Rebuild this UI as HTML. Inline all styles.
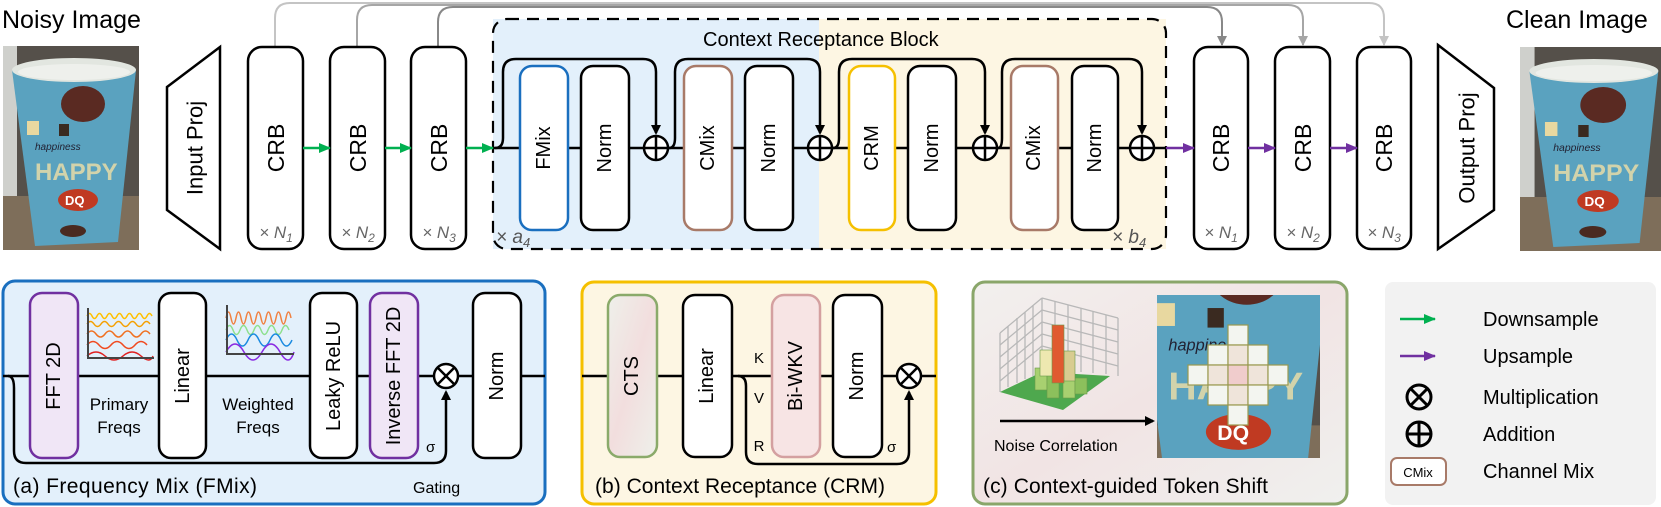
<!DOCTYPE html>
<html><head><meta charset="utf-8"><style>
html,body{margin:0;padding:0;background:#fff}
svg{display:block}
text{font-family:"Liberation Sans",sans-serif}
</style></head><body>
<svg width="1661" height="507" viewBox="0 0 1661 507" xmlns="http://www.w3.org/2000/svg">
<defs>
<marker id="ab" markerWidth="10" markerHeight="10" refX="8" refY="5" orient="auto" markerUnits="userSpaceOnUse"><path d="M0,0 L10,5 L0,10 z" fill="#000"/></marker>
<marker id="ag" markerWidth="12" markerHeight="10" refX="11" refY="5" orient="auto" markerUnits="userSpaceOnUse"><path d="M0,0 L12,5 L0,10 z" fill="#00b050"/></marker>
<marker id="ap" markerWidth="12" markerHeight="10" refX="11" refY="5" orient="auto" markerUnits="userSpaceOnUse"><path d="M0,0 L12,5 L0,10 z" fill="#7030a0"/></marker>
<marker id="a1" markerWidth="10" markerHeight="12" refX="9" refY="5" orient="auto" markerUnits="userSpaceOnUse"><path d="M0,0 L10,5 L0,10 z" fill="#888"/></marker>
<marker id="a2" markerWidth="10" markerHeight="12" refX="9" refY="5" orient="auto" markerUnits="userSpaceOnUse"><path d="M0,0 L10,5 L0,10 z" fill="#a6a6a6"/></marker>
<marker id="a3" markerWidth="10" markerHeight="12" refX="9" refY="5" orient="auto" markerUnits="userSpaceOnUse"><path d="M0,0 L10,5 L0,10 z" fill="#c4c4c4"/></marker>
<linearGradient id="cts" x1="0" y1="0" x2="1" y2="1"><stop offset="0" stop-color="#eef0ea"/><stop offset="0.5" stop-color="#f2dede"/><stop offset="1" stop-color="#eef0ea"/></linearGradient>
<linearGradient id="pc" x1="0" y1="0" x2="1" y2="1"><stop offset="0" stop-color="#f2f0ee"/><stop offset="0.5" stop-color="#f1e4e4"/><stop offset="1" stop-color="#f0f0ee"/></linearGradient>
<g id="cup">
<rect x="0" y="0" width="136" height="204" fill="#55504a"/>
<rect x="0" y="0" width="14" height="190" fill="#cfd0cc"/>
<rect x="0" y="150" width="136" height="54" fill="#7e6e5a"/>
<path d="M9,24 L133,24 L115,196 L32,200 Z" fill="#5aa2bf"/>
<ellipse cx="71" cy="24" rx="62" ry="12" fill="#e2e6e0"/>
<ellipse cx="71" cy="26" rx="56" ry="8" fill="#eef0ec"/>
<ellipse cx="80" cy="58" rx="22" ry="18" fill="#5a2a22"/>
<rect x="24" y="75" width="12" height="14" fill="#e8d8a0"/>
<rect x="56" y="78" width="10" height="12" fill="#3a2a20"/>
<text x="32" y="104" font-size="10" fill="#223" font-style="italic">happiness</text>
<text x="32" y="134" font-size="24" font-weight="bold" fill="#e8dca8" opacity="0.85">HAPPY</text>
<ellipse cx="75" cy="154" rx="20" ry="11" fill="#c03a22"/>
<text x="62" y="159" font-size="13" font-weight="bold" fill="#fff">DQ</text>
<ellipse cx="70" cy="185" rx="13" ry="6" fill="#4a2a20"/>
</g>
</defs>

<text x="2" y="28" font-size="25">Noisy Image</text>
<use href="#cup" x="3" y="46"/>
<text x="1506" y="28" font-size="25">Clean Image</text>
<g transform="translate(1520,47) scale(1.04,1)"><use href="#cup"/></g>

<polygon points="220,47 220,249 167,210 167,87" fill="#fff" stroke="#000" stroke-width="2.5"/>
<text transform="translate(195,148) rotate(-90)" text-anchor="middle" dominant-baseline="central" font-size="22">Input Proj</text>
<polygon points="1438,45 1494,88 1494,210 1438,249" fill="#fff" stroke="#000" stroke-width="2.5"/>
<text transform="translate(1467,148) rotate(-90)" text-anchor="middle" dominant-baseline="central" font-size="22">Output Proj</text>

<path d="M275,47 V18 Q275,3 290,3 H1369 Q1384,3 1384,18 V45" fill="none" stroke="#c4c4c4" stroke-width="2" marker-end="url(#a3)"/>
<path d="M357,47 V20 Q357,5 372,5 H1288 Q1303,5 1303,20 V45" fill="none" stroke="#a6a6a6" stroke-width="2" marker-end="url(#a2)"/>
<path d="M438,47 V22 Q438,7 453,7 H1207 Q1222,7 1222,22 V45" fill="none" stroke="#888" stroke-width="2" marker-end="url(#a1)"/>

<rect x="493" y="19" width="326" height="230" fill="#e3f0fb"/>
<rect x="819" y="19" width="347" height="230" fill="#fdf6e3"/>
<rect x="493" y="19" width="673" height="230" rx="14" fill="none" stroke="#000" stroke-width="2.2" stroke-dasharray="12,8"/>
<text x="703" y="46" font-size="20">Context Receptance Block</text>
<text x="496" y="243" font-size="19" fill="#555" font-style="italic">× a<tspan font-size="13" dy="4">4</tspan></text>
<text x="1112" y="243" font-size="19" fill="#555" font-style="italic">× b<tspan font-size="13" dy="4">4</tspan></text>

<line x1="493" y1="148" x2="1166" y2="148" stroke="#000" stroke-width="2.5"/>
<g fill="none" stroke="#000" stroke-width="2.5">
<path d="M495,148 Q503,148 503,138 V72 Q503,59 516,59 H643 Q656,59 656,72 V133" marker-end="url(#ab)"/>
<path d="M669,148 Q675,148 675,138 V72 Q675,59 688,59 H807 Q820,59 820,72 V133" marker-end="url(#ab)"/>
<path d="M833,148 Q839,148 839,138 V72 Q839,59 852,59 H972 Q985,59 985,72 V133" marker-end="url(#ab)"/>
<path d="M998,148 Q1002,148 1002,138 V72 Q1002,59 1015,59 H1129 Q1142,59 1142,72 V133" marker-end="url(#ab)"/>
</g>
<g fill="#fff" stroke-width="2.5">
<rect x="520" y="66" width="48" height="164" rx="12" stroke="#1a6fbf"/>
<rect x="581" y="66" width="48" height="164" rx="12" stroke="#000"/>
<rect x="684" y="66" width="48" height="164" rx="12" stroke="#a87a68"/>
<rect x="745" y="66" width="48" height="164" rx="12" stroke="#000"/>
<rect x="849" y="66" width="46" height="164" rx="12" stroke="#f5c000"/>
<rect x="908" y="66" width="48" height="164" rx="12" stroke="#000"/>
<rect x="1011" y="66" width="47" height="164" rx="12" stroke="#a87a68"/>
<rect x="1072" y="66" width="46" height="164" rx="12" stroke="#000"/>
</g>
<g font-size="20" text-anchor="middle" dominant-baseline="central">
<text transform="translate(544,148) rotate(-90)">FMix</text>
<text transform="translate(605,148) rotate(-90)">Norm</text>
<text transform="translate(708,148) rotate(-90)">CMix</text>
<text transform="translate(769,148) rotate(-90)">Norm</text>
<text transform="translate(872,148) rotate(-90)">CRM</text>
<text transform="translate(932,148) rotate(-90)">Norm</text>
<text transform="translate(1034,148) rotate(-90)">CMix</text>
<text transform="translate(1095,148) rotate(-90)">Norm</text>
</g>
<g fill="#fff" stroke="#000" stroke-width="2.5">
<circle cx="656" cy="148" r="12"/><path d="M644,148 H668 M656,136 V160"/>
<circle cx="820" cy="148" r="12"/><path d="M808,148 H832 M820,136 V160"/>
<circle cx="985" cy="148" r="12"/><path d="M973,148 H997 M985,136 V160"/>
<circle cx="1142" cy="148" r="12"/><path d="M1130,148 H1154 M1142,136 V160"/>
</g>

<g fill="#fff" stroke="#000" stroke-width="2.5">
<rect x="248" y="47" width="55" height="202" rx="14"/>
<rect x="330" y="47" width="55" height="202" rx="14"/>
<rect x="411" y="47" width="55" height="202" rx="14"/>
<rect x="1194" y="47" width="54" height="202" rx="14"/>
<rect x="1275" y="47" width="55" height="202" rx="14"/>
<rect x="1357" y="47" width="54" height="202" rx="14"/>
</g>
<g font-size="23" text-anchor="middle" dominant-baseline="central">
<text transform="translate(276,148) rotate(-90)">CRB</text>
<text transform="translate(358,148) rotate(-90)">CRB</text>
<text transform="translate(439,148) rotate(-90)">CRB</text>
<text transform="translate(1221,148) rotate(-90)">CRB</text>
<text transform="translate(1303,148) rotate(-90)">CRB</text>
<text transform="translate(1384,148) rotate(-90)">CRB</text>
</g>
<g font-size="17" fill="#666" text-anchor="middle" font-style="italic">
<text x="276" y="238">× N<tspan font-size="12" dy="4">1</tspan></text>
<text x="358" y="238">× N<tspan font-size="12" dy="4">2</tspan></text>
<text x="439" y="238">× N<tspan font-size="12" dy="4">3</tspan></text>
<text x="1221" y="238">× N<tspan font-size="12" dy="4">1</tspan></text>
<text x="1303" y="238">× N<tspan font-size="12" dy="4">2</tspan></text>
<text x="1384" y="238">× N<tspan font-size="12" dy="4">3</tspan></text>
</g>
<g stroke-width="2.5">
<line x1="303" y1="148" x2="330" y2="148" stroke="#00b050" marker-end="url(#ag)"/>
<line x1="385" y1="148" x2="411" y2="148" stroke="#00b050" marker-end="url(#ag)"/>
<line x1="466" y1="148" x2="493" y2="148" stroke="#00b050" marker-end="url(#ag)"/>
<line x1="1166" y1="148" x2="1194" y2="148" stroke="#7030a0" marker-end="url(#ap)"/>
<line x1="1248" y1="148" x2="1275" y2="148" stroke="#7030a0" marker-end="url(#ap)"/>
<line x1="1330" y1="148" x2="1357" y2="148" stroke="#7030a0" marker-end="url(#ap)"/>
</g>

<rect x="3" y="281" width="542" height="223" rx="12" fill="#e3f0fb" stroke="#1a6fbf" stroke-width="3"/>
<line x1="3" y1="376" x2="545" y2="376" stroke="#000" stroke-width="2.5"/>
<path d="M8,376 Q14,376 14,388 V451 Q14,463 26,463 H434 Q446,463 446,451 V392" fill="none" stroke="#000" stroke-width="2.5" marker-end="url(#ab)"/>
<g stroke-width="2.5">
<rect x="30" y="293" width="48" height="165" rx="12" fill="#f0e6f6" stroke="#7030a0"/>
<rect x="159" y="293" width="47" height="165" rx="12" fill="#fff" stroke="#000"/>
<rect x="310" y="293" width="47" height="165" rx="12" fill="#fff" stroke="#000"/>
<rect x="370" y="293" width="48" height="165" rx="12" fill="#f0e6f6" stroke="#7030a0"/>
<rect x="473" y="293" width="48" height="165" rx="12" fill="#fff" stroke="#000"/>
</g>
<g font-size="20" text-anchor="middle" dominant-baseline="central">
<text transform="translate(54,376) rotate(-90)">FFT 2D</text>
<text transform="translate(183,376) rotate(-90)">Linear</text>
<text transform="translate(334,376) rotate(-90)">Leaky ReLU</text>
<text transform="translate(394,376) rotate(-90)">Inverse FFT 2D</text>
<text transform="translate(497,376) rotate(-90)">Norm</text>
</g>
<g fill="#fff" stroke="#000" stroke-width="2.5"><circle cx="446" cy="376" r="12"/><path d="M437.5,367.5 L454.5,384.5 M454.5,367.5 L437.5,384.5"/></g>
<text x="426" y="452" font-size="15" font-family="Liberation Serif">σ</text>
<text x="119" y="410" font-size="17" text-anchor="middle">Primary</text>
<text x="119" y="433" font-size="17" text-anchor="middle">Freqs</text>
<text x="258" y="410" font-size="17" text-anchor="middle">Weighted</text>
<text x="258" y="433" font-size="17" text-anchor="middle">Freqs</text>
<g fill="none" stroke-width="1.5">
<path d="M87,316 q2.5,-5 5,0 t5,0 t5,0 t5,0 t5,0 t5,0 t5,0 t5,0 t5,0 t5,0 t5,0 t5,0 t5,0" stroke="#ffc000"/>
<path d="M87,324 q3.5,-5 7,0 t7,0 t7,0 t7,0 t7,0 t7,0 t7,0 t7,0 t7,0" stroke="#f5a000"/>
<path d="M87,334 q4.5,-6 9,0 t9,0 t9,0 t9,0 t9,0 t9,0 t9,0" stroke="#f07020"/>
<path d="M87,345 q6,-7 12,0 t12,0 t12,0 t12,0 t12,0" stroke="#f04a20"/>
<path d="M87,356 q9,-8 18,0 t18,0 t18,0 t12,0" stroke="#e02020"/>
</g>
<path d="M88,308 V358 H154" fill="none" stroke="#444" stroke-width="2"/>
<g fill="none" stroke-width="1.5">
<path d="M226,318 q2.5,-12 5,0 t5,0 t5,0 t5,0 t5,0 t5,0 t5,0 t5,0 t5,0 t5,0 t5,0 t5,0 t5,0" stroke="#f08040"/>
<path d="M226,330 q3.5,-9 7,0 t7,0 t7,0 t7,0 t7,0 t7,0 t7,0 t7,0 t7,0" stroke="#8ee08e"/>
<path d="M226,340 q5.5,-12 11,0 t11,0 t11,0 t11,0 t11,0 t11,0" stroke="#1a8ae0"/>
<path d="M226,352 q9,-16 18,0 t18,0 t18,0 t14,0" stroke="#8a2be2"/>
</g>
<path d="M227,305 V354 H294" fill="none" stroke="#444" stroke-width="2"/>
<text x="13" y="493" font-size="21" textLength="244">(a) Frequency Mix (FMix)</text>
<text x="413" y="493" font-size="16">Gating</text>

<rect x="582" y="282" width="354" height="222" rx="12" fill="#fdf6e3" stroke="#f5c000" stroke-width="3"/>
<line x1="582" y1="376" x2="936" y2="376" stroke="#000" stroke-width="2.5"/>
<path d="M738,376 Q746,376 746,386 V452 Q746,464 758,464 H897 Q909,464 909,452 V392" fill="none" stroke="#000" stroke-width="2.5" marker-end="url(#ab)"/>
<g stroke-width="2.5">
<rect x="608" y="295" width="49" height="162" rx="12" fill="url(#cts)" stroke="#8aaa6a"/>
<rect x="683" y="295" width="49" height="162" rx="12" fill="#fff" stroke="#000"/>
<rect x="772" y="295" width="48" height="162" rx="12" fill="#f7e4e4" stroke="#d4a0a0"/>
<rect x="833" y="295" width="49" height="162" rx="12" fill="#fff" stroke="#000"/>
</g>
<g font-size="20" text-anchor="middle" dominant-baseline="central">
<text transform="translate(632,376) rotate(-90)">CTS</text>
<text transform="translate(707,376) rotate(-90)">Linear</text>
<text transform="translate(796,376) rotate(-90)">Bi-WKV</text>
<text transform="translate(857,376) rotate(-90)">Norm</text>
</g>
<text x="759" y="363" font-size="15" text-anchor="middle">K</text>
<text x="759" y="403" font-size="15" text-anchor="middle">V</text>
<text x="759" y="451" font-size="15" text-anchor="middle">R</text>
<g fill="#fff" stroke="#000" stroke-width="2.5"><circle cx="909" cy="376" r="12"/><path d="M900.5,367.5 L917.5,384.5 M917.5,367.5 L900.5,384.5"/></g>
<text x="887" y="452" font-size="15" font-family="Liberation Serif">σ</text>
<text x="595" y="493" font-size="21" textLength="290">(b) Context Receptance (CRM)</text>

<rect x="973" y="282" width="374" height="222" rx="12" fill="url(#pc)" stroke="#8aa66a" stroke-width="3"/>
<g stroke="#b8b8b8" stroke-width="1.3" fill="none">
<path d="M1000,333 L1042,298 M1000,345 L1042,310 M1000,357 L1042,322 M1000,369 L1042,334 M1000,381 L1042,346"/>
<path d="M1000,333 V392 M1008,326 V387 M1017,318 V383 M1025,312 V379 M1033,305 V376 M1042,298 V372"/>
<path d="M1042,298 L1118,318 M1042,310 L1118,330 M1042,322 L1118,342 M1042,334 L1118,354 M1042,346 L1118,366"/>
<path d="M1055,301 V370 M1068,305 V370 M1081,308 V372 M1093,311 V373 M1106,315 V374 M1118,318 V376"/>
</g>
<polygon points="1000,392 1042,372 1110,376 1063,410" fill="#4ea84e"/>
<g stroke="#6a9a4a" stroke-width="0.6">
<rect x="1035" y="368" width="12" height="22" fill="#a8d070"/>
<rect x="1047" y="372" width="12" height="26" fill="#8cc05c"/>
<rect x="1063" y="374" width="12" height="24" fill="#a8d070"/>
<rect x="1075" y="378" width="12" height="16" fill="#8cc05c"/>
<rect x="1040" y="350" width="14" height="26" fill="#eee8b0"/>
<rect x="1064" y="351" width="11" height="30" fill="#d8cc90"/>
<rect x="1052" y="325" width="12" height="58" fill="#e05a30"/>
</g>
<line x1="1000" y1="421" x2="1153" y2="421" stroke="#000" stroke-width="2.5" marker-end="url(#ab)"/>
<text x="994" y="451" font-size="16">Noise Correlation</text>
<svg x="1157" y="295" width="163" height="163" viewBox="25 70 100 100" preserveAspectRatio="none"><use href="#cup"/></svg>
<g stroke="#9a9a50" stroke-width="1.2">
<rect x="1228" y="325" width="20" height="20" fill="#f3f5f0"/>
<rect x="1208" y="345" width="20" height="20" fill="#f3f5f0"/>
<rect x="1228" y="345" width="20" height="20" fill="#efe4da"/>
<rect x="1248" y="345" width="20" height="20" fill="#f3f5f0"/>
<rect x="1188" y="365" width="20" height="20" fill="#f3f5f0"/>
<rect x="1208" y="365" width="20" height="20" fill="#efe4da"/>
<rect x="1228" y="365" width="20" height="20" fill="#f0cccc"/>
<rect x="1248" y="365" width="20" height="20" fill="#efe4da"/>
<rect x="1268" y="365" width="20" height="20" fill="#f3f5f0"/>
<rect x="1208" y="385" width="20" height="20" fill="#f3f5f0"/>
<rect x="1228" y="385" width="20" height="20" fill="#efe4da"/>
<rect x="1248" y="385" width="20" height="20" fill="#f3f5f0"/>
<rect x="1228" y="405" width="20" height="20" fill="#f3f5f0"/>
</g>
<text x="983" y="493" font-size="21" textLength="285">(c) Context-guided Token Shift</text>

<rect x="1385" y="282" width="271" height="223" rx="8" fill="#f2f2f2"/>
<line x1="1400" y1="319" x2="1435" y2="319" stroke="#00b050" stroke-width="2.5" marker-end="url(#ag)"/>
<line x1="1400" y1="356" x2="1435" y2="356" stroke="#7030a0" stroke-width="2.5" marker-end="url(#ap)"/>
<g fill="none" stroke="#000" stroke-width="3">
<circle cx="1419" cy="397" r="12"/><path d="M1410.5,388.5 L1427.5,405.5 M1427.5,388.5 L1410.5,405.5"/>
<circle cx="1419" cy="434" r="12"/><path d="M1407,434 H1431 M1419,422 V446"/>
</g>
<rect x="1391" y="458" width="55" height="27" rx="6" fill="#fff" stroke="#a87a68" stroke-width="2"/>
<text x="1418" y="477" font-size="13" text-anchor="middle">CMix</text>
<g font-size="20">
<text x="1483" y="326">Downsample</text>
<text x="1483" y="363">Upsample</text>
<text x="1483" y="404">Multiplication</text>
<text x="1483" y="441">Addition</text>
<text x="1483" y="478">Channel Mix</text>
</g>
</svg>
</body></html>
